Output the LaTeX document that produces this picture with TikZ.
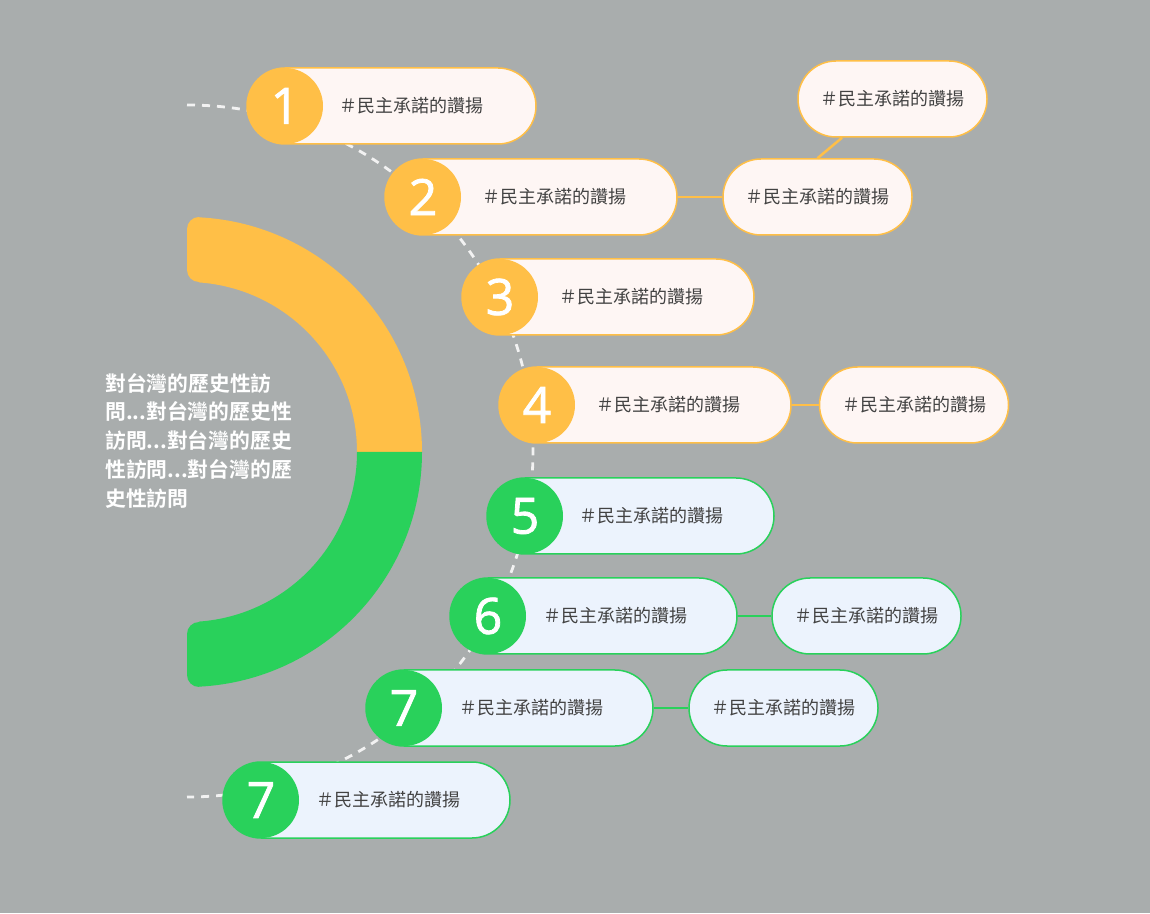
\documentclass[tikz,border=0pt]{standalone}
\usepackage{fontspec}
\usetikzlibrary{calc}
\newfontfamily\cjk{Noto Sans CJK TC}[BoldFont={Noto Sans CJK TC Bold}]
\newfontfamily\numfont{Open Sans}[FakeBold=1.6]
\definecolor{bg}{HTML}{A9ADAD}
\definecolor{ycol}{HTML}{FFBF47}
\definecolor{gcol}{HTML}{29D15B}
\definecolor{yfill}{HTML}{FEF6F4}
\definecolor{gfill}{HTML}{ECF3FD}
\definecolor{txt}{HTML}{424242}
\definecolor{dashcol}{HTML}{F2F2F2}
\newcommand{\tag}{＃民主承諾的讚揚}
\tikzset{
  pill/.style={rectangle, rounded corners=38pt, minimum height=76pt, inner sep=0pt, line width=1.5pt},
  pillY/.style={pill, draw=ycol, fill=yfill},
  pillG/.style={pill, draw=gcol, fill=gfill},
  sideY/.style={pillY, minimum width=189pt, font=\cjk\fontsize{18}{22}\selectfont, text=txt},
  sideG/.style={pillG, minimum width=189pt, font=\cjk\fontsize{18}{22}\selectfont, text=txt},
  numY/.style={circle, fill=ycol, minimum size=76pt, inner sep=0pt, text=white, font=\numfont\fontsize{50}{50}\selectfont},
  numG/.style={circle, fill=gcol, minimum size=76pt, inner sep=0pt, text=white, font=\numfont\fontsize{50}{50}\selectfont},
  ptext/.style={inner sep=0pt, text=txt, font=\cjk\fontsize{18}{22}\selectfont},
  linkY/.style={draw=ycol, line width=2.5pt},
  linkG/.style={draw=gcol, line width=2.5pt},
  dashline/.style={draw=dashcol, line width=2.8pt, dash pattern=on 8pt off 7pt}
}
\begin{document}
\begin{tikzpicture}[x=1pt,y=1pt]
\useasboundingbox (0,0) rectangle (1150,913);
\fill[bg] (0,0) rectangle (1150,913);

% half ring
\fill[ycol] (187,643) -- (187,684) arc[start angle=180,end angle=90,radius=12]
  -- ({187+235*cos(87.08)},{461+235*sin(87.08)}) arc[start angle=87.08,end angle=0,radius=235]
  -- (357,461) arc[start angle=0,end angle=85.96,radius=170]
  -- (199,631) arc[start angle=-90,end angle=-180,radius=12] -- cycle;
\fill[gcol] (187,279) -- (187,238) arc[start angle=180,end angle=270,radius=12]
  -- ({187+235*cos(-87.08)},{461+235*sin(-87.08)}) arc[start angle=-87.08,end angle=0,radius=235]
  -- (357,461) arc[start angle=0,end angle=-85.96,radius=170]
  -- (199,291) arc[start angle=90,end angle=180,radius=12] -- cycle;

\node[anchor=west, inner sep=0pt, align=left, text=white,
  font=\cjk\bfseries\fontsize{20.8}{28.75}\selectfont] (title) at (105,472.5)
  {對台灣的歷史性訪\\問...對台灣的歷史性\\訪問...對台灣的歷史\\性訪問...對台灣的歷\\史性訪問};

% dashed arc
\coordinate (arctop) at (187,808);
\draw[dashline] (arctop) arc[start angle=90,end angle=-90,radius=346];

% pills
\node[pillY, minimum width=289pt] (p1) at (391.5,807) {};
\node[numY] (n1) at (285,807) {1};
\node[ptext] (t1) at (411,807) {\tag};

\node[pillY, minimum width=292pt] (p2) at (531,716) {};
\node[numY] (n2) at (423,716) {2};
\node[ptext] (t2) at (554.5,716) {\tag};
\node[sideY] (s2a) at (817.5,716) {\tag};
\node[sideY] (s2b) at (892.5,814) {\tag};
\draw[linkY] (p2.east) -- (s2a.west);
\draw[linkY] (s2a.north) -- ($(s2b.south)+(-50.5,0)$);

\node[pillY, minimum width=292pt] (p3) at (608,616) {};
\node[numY] (n3) at (500,616) {3};
\node[ptext] (t3) at (631.5,616) {\tag};

\node[pillY, minimum width=292pt] (p4) at (645,508) {};
\node[numY] (n4) at (537,508) {4};
\node[ptext] (t4) at (668.5,508) {\tag};
\node[sideY] (s4) at (914,508) {\tag};
\draw[linkY] (p4.east) -- (s4.west);

\node[pillG, minimum width=287pt] (p5) at (630.5,397) {};
\node[numG] (n5) at (525,397) {5};
\node[ptext] (t5) at (651,397) {\tag};

\node[pillG, minimum width=287pt] (p6) at (593.5,297) {};
\node[numG] (n6) at (488,297) {6};
\node[ptext] (t6) at (615,297) {\tag};
\node[sideG] (s6) at (866.5,297) {\tag};
\draw[linkG] (p6.east) -- (s6.west);

\node[pillG, minimum width=287pt] (p7) at (509.5,205) {};
\node[numG] (n7) at (404,205) {7};
\node[ptext] (t7) at (531,205) {\tag};
\node[sideG] (s7) at (783.5,205) {\tag};
\draw[linkG] (p7.east) -- (s7.west);

\node[pillG, minimum width=287pt] (p8) at (366.5,113) {};
\node[numG] (n8) at (261,113) {7};
\node[ptext] (t8) at (388,113) {\tag};
\end{tikzpicture}
\end{document}
